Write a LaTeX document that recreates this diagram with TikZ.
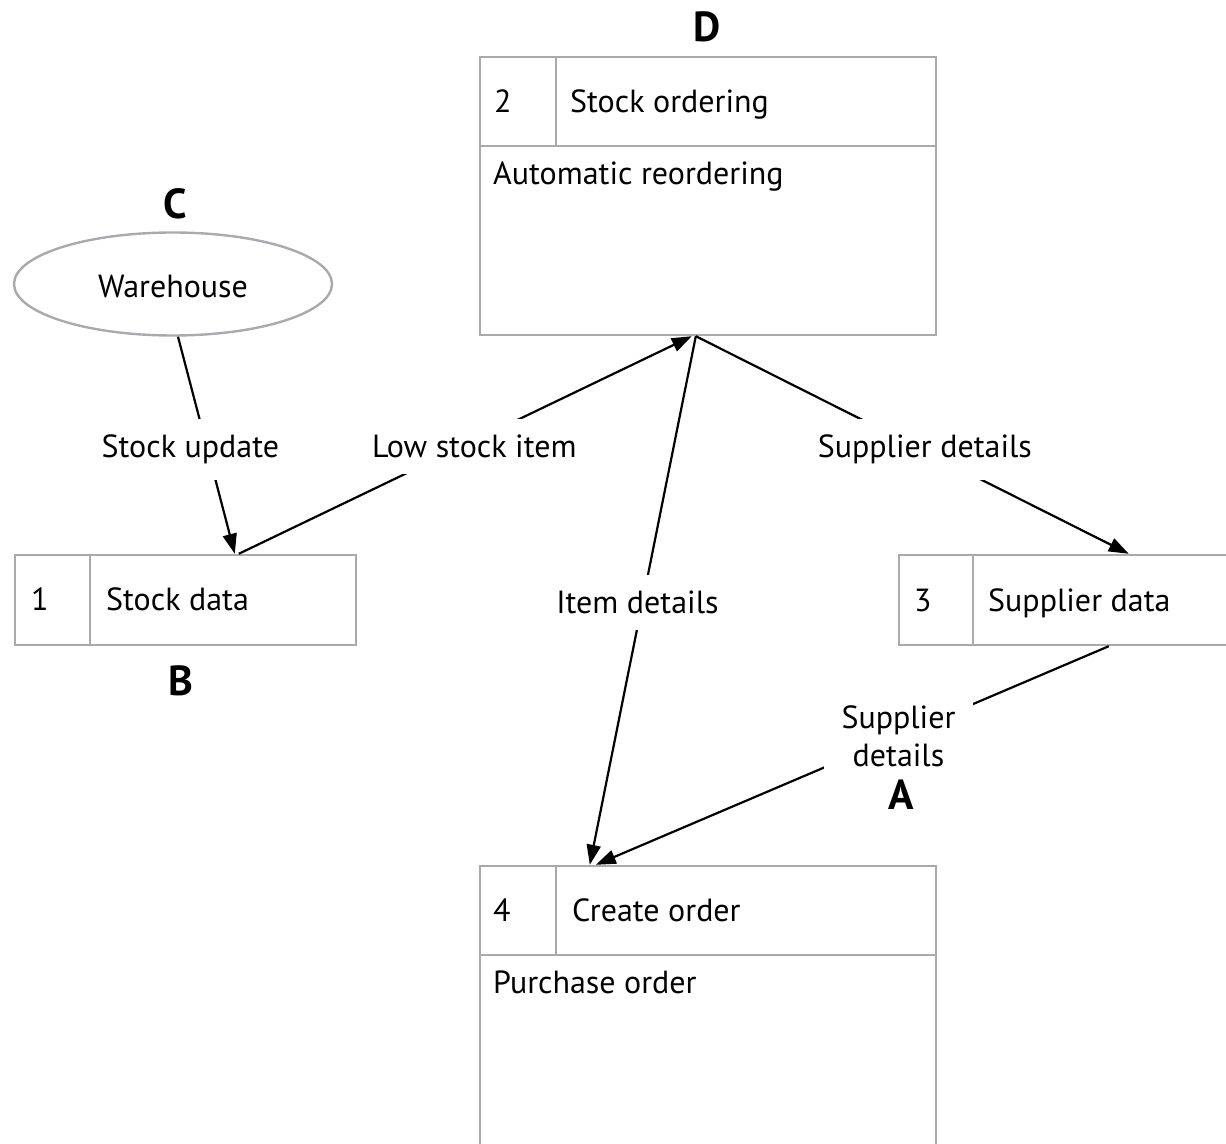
\documentclass[tikz,border=0pt]{standalone}
\usepackage{fontspec}
\setmainfont{PT Sans}
\usepackage{tikz}
\usetikzlibrary{
  shapes.geometric, arrows.meta, positioning, calc
}
\definecolor{boxgray}{RGB}{168,170,173}

\begin{document}
\begin{tikzpicture}[x=0.5pt, y=-0.5pt,
    font=\fontsize{16}{19}\selectfont,
    procbox/.style={draw=boxgray, line width=1.2pt, rectangle, inner sep=0pt},
    divider/.style={draw=boxgray, line width=1.2pt},
    txt/.style={anchor=base west, inner sep=0pt},
    flow/.style={line width=1.1pt, -{Triangle[length=10pt, width=7pt]}},
    lbl/.style={fill=white, inner sep=8pt},
    tag/.style={font=\fontsize{21}{25}\selectfont\bfseries}]
  \useasboundingbox (0,0) rectangle (1226,1144);

  % external entity
  \node[ellipse, draw=boxgray, line width=1.2pt, inner sep=0pt,
    minimum width=159pt, minimum height=51.5pt] (wh) at (173,284) {};
  \node at (173,286) {Warehouse};
  \node[tag] (tagc) at (175,204) {C};

  % process boxes
  \node[procbox, minimum width=228pt, minimum height=139pt] (ordering) at (708,196) {};
  \draw[divider] ($(ordering.north west)+(0,90)$) -- ($(ordering.north east)+(0,90)$);
  \draw[divider] ($(ordering.north west)+(77,0)$) -- ($(ordering.north west)+(77,90)$);
  \node[txt] at ($(ordering.north west)+(15,57)$) {2};
  \node[txt] at ($(ordering.north west)+(91,57)$) {Stock ordering};
  \node[txt] at ($(ordering.north west)+(14,129)$) {Automatic reordering};
  \node[tag] (tagd) at (707,27) {D};

  \node[procbox, minimum width=170.5pt, minimum height=45pt] (stockdata) at (185.5,600) {};
  \draw[divider] ($(stockdata.north west)+(76,0)$) -- ($(stockdata.south west)+(76,0)$);
  \node[txt] at ($(stockdata.north west)+(17,57)$) {1};
  \node[txt] at ($(stockdata.north west)+(92,57)$) {Stock data};
  \node[tag] (tagb) at (181,681) {B};

  \node[procbox, minimum width=170.5pt, minimum height=45pt] (supplierdata) at (1069.5,600) {};
  \draw[divider] ($(supplierdata.north west)+(75,0)$) -- ($(supplierdata.south west)+(75,0)$);
  \node[txt] at ($(supplierdata.north west)+(16,58)$) {3};
  \node[txt] at ($(supplierdata.north west)+(90,58)$) {Supplier data};

  \node[procbox, minimum width=228pt, minimum height=149pt] (createorder) at (708,1015) {};
  \draw[divider] ($(createorder.north west)+(0,90)$) -- ($(createorder.north east)+(0,90)$);
  \draw[divider] ($(createorder.north west)+(77,0)$) -- ($(createorder.north west)+(77,90)$);
  \node[txt] at ($(createorder.north west)+(14,57)$) {4};
  \node[txt] at ($(createorder.north west)+(93,57)$) {Create order};
  \node[txt] at ($(createorder.north west)+(14,129)$) {Purchase order};

  % connector ends
  \coordinate (whout) at ($(wh.south)+(5,0)$);
  \coordinate (sdin) at ($(stockdata.north west)+(221,0)$);
  \coordinate (sdout) at ($(stockdata.north west)+(225,0)$);
  \coordinate (ordin) at ($(ordering.south west)+(213,0)$);
  \coordinate (ordout) at ($(ordering.south west)+(217,0)$);
  \coordinate (supin) at ($(supplierdata.north west)+(231,0)$);
  \coordinate (supout) at ($(supplierdata.south west)+(211,0)$);
  \coordinate (coin) at ($(createorder.north west)+(111,0)$);
  \coordinate (coin2) at ($(createorder.north west)+(117,0)$);

  % data flows
  \draw[flow] (whout) -- node[lbl, xshift=-8pt, yshift=-2pt] {Stock update} (sdin);
  \draw[flow] (sdout) -- node[lbl, pos=0.52, yshift=-3pt] {Low stock item} (ordin);
  \draw[flow] (ordout) -- node[lbl, pos=0.503, xshift=-2.5pt] {Item details} (coin);
  \draw[flow] (ordout) -- node[lbl, pos=0.529, yshift=1pt] {Supplier details} (supin);
  \draw[flow] (supout) -- node[lbl, pos=0.41, align=center, inner xsep=9pt] (supdet) {Supplier\\details} (coin2);
  \node[tag] (taga) at (901,795) {A};
\end{tikzpicture}
\end{document}
